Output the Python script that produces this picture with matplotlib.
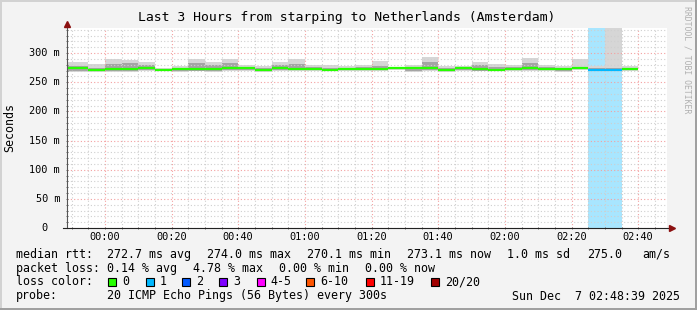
import matplotlib
matplotlib.use("Agg")
import matplotlib.pyplot as plt
import numpy as np
from matplotlib.patches import Rectangle
from matplotlib.transforms import offset_copy

W, H = 697, 310
MONO = "DejaVu Sans Mono"

# time in minutes from 00:00, window is 23:48:39 .. 02:48:39, 5 min steps
t_start = -11.35
t_end = 168.65
step = 5

# per 5 min bucket (34 buckets, last one ends 02:40)
rtt_median = [273.7, 271.0, 272.0, 272.6, 273.7, 271.0, 272.5, 272.3, 272.0, 273.5,
              273.7, 271.0, 274.0, 272.0, 272.6, 271.0, 272.6, 272.2, 272.6, 273.7,
              273.7, 274.0, 271.0, 273.7, 272.5, 271.0, 272.6, 273.5, 272.6, 272.8,
              273.7, 271.7, 270.1, 273.1]
rtt_min = [268, 268, 268, 268, 269, 270, 268, 269, 268, 269,
           270, 267, 269, 269, 269, 269, 270, 269, 269, 271,
           268, 270, 268, 270, 269, 269, 270, 270, 269, 268,
           271, 271, 269, 270]
rtt_lo = [270, 269, 270, 270, 271, 270.5, 269, 270, 270, 271,
          271, 268.5, 271, 270.5, 270.5, 270, 271, 270.5, 271, 272,
          270, 271, 269, 271, 270, 270, 271, 271, 270.5, 269,
          272, 271.5, 271, 271]
rtt_hi = [277, 275, 281, 283, 280, 273, 275, 283, 279, 283,
          276, 274, 279, 282, 276, 275, 275, 276, 278, 274,
          276, 284, 275, 276, 279, 276, 276, 283, 276, 274,
          276, 274, 275, 275]
rtt_max = [285, 281, 289, 288, 285, 274, 277, 290, 285, 289,
           279, 277, 285, 290, 279, 279, 278, 279, 287, 274,
           279, 294, 278, 277, 285, 281, 279, 291, 280, 277,
           289, 277, 420, 277]
lost = [0] * 31 + [1, 1, 0]  # pings lost out of 20

xtick_pos = [0, 20, 40, 60, 80, 100, 120, 140, 160]
xtick_labels = ["00:00", "00:20", "00:40", "01:00", "01:20", "01:40", "02:00", "02:20", "02:40"]
ytick_vals = [0, 50, 100, 150, 200, 250, 300]

loss_names = ["0", "1", "2", "3", "4-5", "6-10", "11-19", "20/20"]
loss_cols = ["#26ff00", "#00b8ff", "#0059ff", "#7e00ff", "#ff00ff", "#ff5500", "#ff0000", "#a10000"]
loss_upper = [0, 1, 2, 3, 5, 10, 19, 20]


def loss_color(n):
    for up, c in zip(loss_upper, loss_cols):
        if n <= up:
            return c
    return loss_cols[-1]


def fx(px):
    return px / W


def fy(py):
    return 1 - py / H


fig = plt.figure(figsize=(W / 100, H / 100), dpi=100, facecolor="#f3f3f3")
ax = fig.add_axes([fx(67), fy(228), 600 / W, 200 / H])
ax.set_facecolor("white")

edges = np.concatenate([[t_start], np.arange(-5, 161, step)])
ymax = 342.9

# loss background
for i, n in enumerate(lost):
    if n > 0:
        ax.axvspan(edges[i], edges[i + 1], color=loss_color(n), alpha=0.34, lw=0, zorder=0.8)

# smoke
ax.fill_between(edges, np.append(rtt_min, rtt_min[-1]), np.append(rtt_max, rtt_max[-1]),
                step="post", color="#d6d6d6", lw=0, zorder=1)
ax.fill_between(edges, np.append(rtt_lo, rtt_lo[-1]), np.append(rtt_hi, rtt_hi[-1]),
                step="post", color="#a4a4a4", lw=0, zorder=1.1)

# median, colored by loss
ax.hlines(rtt_median, edges[:-1], edges[1:], colors=[loss_color(n) for n in lost],
          lw=1.6, zorder=3)

ax.set_xlim(t_start, t_end)
ax.set_ylim(0, ymax)

# grid
ax.set_xticks(xtick_pos)
ax.set_xticks(np.arange(-10, 170, 5), minor=True)
ax.set_yticks(ytick_vals)
ax.set_yticks(np.arange(0, 345, 10), minor=True)
ax.grid(which="minor", color="#cfcfcf", linestyle=(0, (1, 2)), lw=0.8)
ax.grid(which="major", color="#f4a0a0", linestyle=(0, (1, 2)), lw=0.8)
ax.set_axisbelow(False)
ax.tick_params(which="both", labelbottom=False, labelleft=False, length=2,
               direction="inout", color="#555555", width=0.6)

for s in ["top", "right", "left", "bottom"]:
    ax.spines[s].set_visible(False)
# axes with arrows
ax.plot([0, 0], [0, 1.025], transform=ax.transAxes, color="#555555", lw=0.8, clip_on=False, zorder=4)
ax.plot([-0.006, 1.005], [0, 0], transform=ax.transAxes, color="#222222", lw=0.8, clip_on=False, zorder=4)
ax.plot([0], [1.022], transform=ax.transAxes, marker="^", ms=4, color="#8b1010", clip_on=False, zorder=5)
ax.plot([1.008], [0], transform=ax.transAxes, marker=">", ms=4, color="#8b1010", clip_on=False, zorder=5)

# tick labels
xt = offset_copy(ax.get_xaxis_transform(), fig=fig, y=-9.5, units="dots")
for p, lab in zip(xtick_pos, xtick_labels):
    ax.text(p, 0, lab, transform=xt, ha="center", va="center", fontsize=7.35, family=MONO)
for v in ytick_vals:
    if v:
        ax.text(-7 / 600, v, f"{v} m", transform=ax.get_yaxis_transform(), ha="right",
                va="center", fontsize=7.35, family=MONO)
    else:
        ax.text(-19 / 600, v, "0", transform=ax.get_yaxis_transform(), ha="right",
                va="center", fontsize=7.35, family=MONO)

fig.text(fx(347), fy(18), "Last 3 Hours from starping to Netherlands (Amsterdam)",
         ha="center", va="center", fontsize=9.45, family=MONO)
fig.text(fx(10), fy(127), "Seconds", rotation=90, ha="center", va="center",
         fontsize=8.4, family=MONO)
fig.text(fx(687), fy(6), "RRDTOOL / TOBI OETIKER", rotation=270, ha="center", va="top",
         fontsize=5.9, family=MONO, color="#b0b0b0")

# legend
row1 = [(16, "median rtt:"), (107.3, "272.7 ms avg"), (207.3, "274.0 ms max"),
        (307.3, "270.1 ms min"), (407.3, "273.1 ms now"), (507.3, "1.0 ms sd"),
        (586.7, "275.0"), (642.7, "am/s")]
row2 = [(16, "packet loss:"), (107.3, "0.14 % avg"), (193.3, "4.78 % max"),
        (279.3, "0.00 % min"), (365.3, "0.00 % now")]
for x, s in row1:
    fig.text(fx(x), fy(254.3), s, ha="left", va="center", fontsize=8.4, family=MONO)
for x, s in row2:
    fig.text(fx(x), fy(268.3), s, ha="left", va="center", fontsize=8.4, family=MONO)

fig.text(fx(16), fy(281.8), "loss color:", ha="left", va="center", fontsize=8.4, family=MONO)
sw_x = [108.3, 145.7, 182.3, 219.3, 256.7, 306, 365.7, 430.7]
for x, name, c in zip(sw_x, loss_names, loss_cols):
    fig.patches.append(Rectangle((fx(x), fy(285.7)), 8 / W, 8 / H, transform=fig.transFigure,
                                 facecolor=c, edgecolor="black", lw=0.8))
    fig.text(fx(x + 14), fy(281.8), name, ha="left", va="center", fontsize=8.4, family=MONO)

fig.text(fx(16), fy(296), "probe:", ha="left", va="center", fontsize=8.4, family=MONO)
fig.text(fx(107.3), fy(296), "20 ICMP Echo Pings (56 Bytes) every 300s", ha="left",
         va="center", fontsize=8.4, family=MONO)
fig.text(fx(680), fy(296), "Sun Dec  7 02:48:39 2025", ha="right", va="center",
         fontsize=8.4, family=MONO)

# frame
fig.patches.append(Rectangle((0, fy(2)), 1, 2 / H, transform=fig.transFigure, color="#d2d2d2", lw=0))
fig.patches.append(Rectangle((0, 0), 2 / W, 1, transform=fig.transFigure, color="#d2d2d2", lw=0))
fig.patches.append(Rectangle((0, 0), 1, 2 / H, transform=fig.transFigure, color="#a0a0a0", lw=0))
fig.patches.append(Rectangle((fx(695), 0), 2 / W, 1, transform=fig.transFigure, color="#a0a0a0", lw=0))

fig.savefig("out.png", dpi=100, facecolor=fig.get_facecolor())
